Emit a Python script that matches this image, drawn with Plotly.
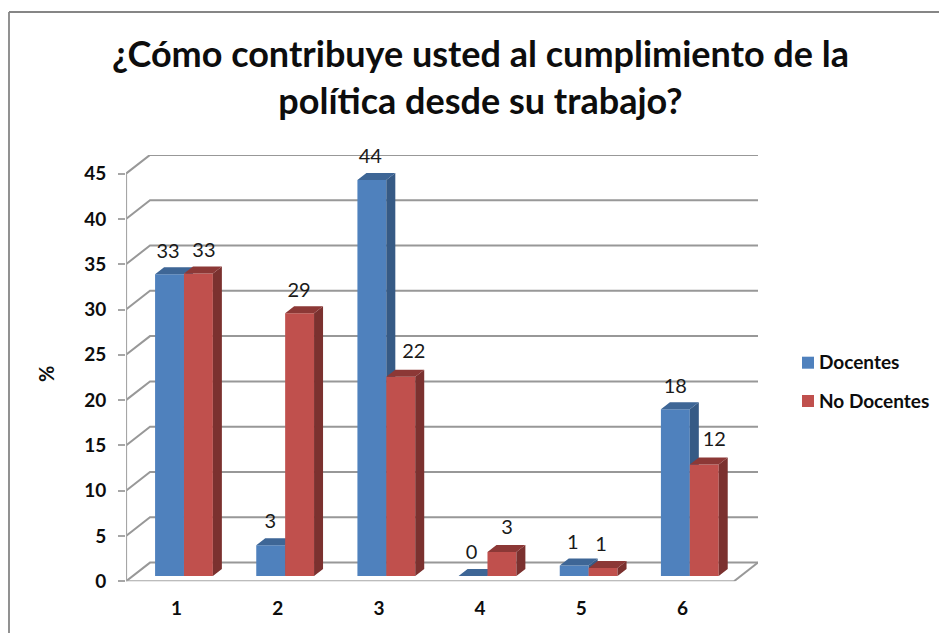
import plotly.graph_objects as go

# ---------- data ----------
categories = [1, 2, 3, 4, 5, 6]
docentes = [33.3, 3.4, 43.7, 0.0, 1.15, 18.4]
no_docentes = [33.4, 29.0, 22.0, 2.65, 0.88, 12.3]
docentes_labels = ["33", "3", "44", "0", "1", "18"]
no_docentes_labels = ["33", "29", "22", "3", "1", "12"]
y_ticks = [0, 5, 10, 15, 20, 25, 30, 35, 40, 45]
title_text = "¿Cómo contribuye usted al cumplimiento de la<br>política desde su trabajo?"
series_names = ["Docentes", "No Docentes"]

# ---------- geometry (pixels of the 939x633 page) ----------
W, H = 939, 633
AX_L, AX_R_FRONT, AX_R_BACK = 126.0, 733.0, 758.0
AX_B, AX_T_BACK = 581.3, 155.0
PX_PER_UNIT = 9.06
PX_PER_CAT = (AX_R_FRONT - AX_L) / 6
WALL_DX_PX, WALL_DY_PX = 24.0, 18.7
BAR_DX_PX, BAR_DY_PX = 9.0, 7.0
BAR_W_PX = 28.9
GROUP_SHIFT_PX = 7.4
BASE_PX = 5.3

to_x = lambda px: px / PX_PER_CAT
to_y = lambda px: px / PX_PER_UNIT
x_range = [0.5, 0.5 + to_x(AX_R_BACK - AX_L)]
y_range = [0, to_y(AX_B - AX_T_BACK)]
wdx, wdy = to_x(WALL_DX_PX), to_y(WALL_DY_PX)
bdx, bdy = to_x(BAR_DX_PX), to_y(BAR_DY_PX)
bw = to_x(BAR_W_PX)
shift = to_x(GROUP_SHIFT_PX)
base = to_y(BASE_PX)
x_end_front = x_range[1] - wdx

# label nudges in pixels (dx, height above the bar's front top edge)
doc_nudge = [(-1.5, 21), (-0.5, 22), (-1.5, 22), (-1.5, 22), (-1.5, 22), (0, 21)]
nod_nudge = [(5.5, 21), (-0.5, 21), (13, 24), (5, 23), (-2, 22), (10, 24)]

BLUE, BLUE_TOP, BLUE_SIDE = "#4F81BD", "#3E6696", "#365A85"
RED, RED_TOP, RED_SIDE = "#C0504D", "#8C3836", "#7B312F"
GRID = "#989898"
FONT = "Lato, Carlito, 'Open Sans', sans-serif"
TEXT = "#0D0D0D"

fig = go.Figure()


def wall_lines():
    xs, ys = [], []
    for t in y_ticks:
        xs += [0.5, 0.5 + wdx, x_range[1], None]
        ys += [t, t + wdy, t + wdy, None]
    # floor
    xs += [x_end_front, x_range[1], None]
    ys += [0, wdy, None]
    return xs, ys


wx, wy = wall_lines()
fig.add_trace(go.Scatter(x=wx, y=wy, mode="lines", line=dict(color=GRID, width=2),
                         showlegend=False, hoverinfo="skip", yaxis="y"))
# the vertical value axis and front floor edge
fig.add_trace(go.Scatter(x=[0.5, 0.5, None, 0.5, x_end_front], y=[y_ticks[-1], 0, None, 0, 0],
                         mode="lines", line=dict(color="#A6A6A6", width=2.2),
                         showlegend=False, hoverinfo="skip", yaxis="y"))


def faces(values, left_offset):
    side_x, side_y, top_x, top_y = [], [], [], []
    for c, v in zip(categories, values):
        xl = c + shift + left_offset
        xr = xl + bw
        yb = base
        yt = base + v
        side_x += [xr, xr + bdx, xr + bdx, xr, None]
        side_y += [yb, yb + bdy, yt + bdy, yt, None]
        top_x += [xl, xr, xr + bdx, xl + bdx, None]
        top_y += [yt, yt, yt + bdy, yt + bdy, None]
    return side_x, side_y, top_x, top_y


def add_series(name, values, labels, nudges, left_offset, col, col_top, col_side, yaxis_id):
    fig.add_trace(go.Bar(x=[c + shift for c in categories], y=values, base=base, width=bw,
                         offset=left_offset, name=name, marker=dict(color=col, line=dict(width=0)),
                         showlegend=False, yaxis=yaxis_id, hoverinfo="skip"))
    sx, sy, tx, ty = faces(values, left_offset)
    fig.add_trace(go.Scatter(x=sx, y=sy, mode="lines", fill="toself", fillcolor=col_side,
                             line=dict(width=0, color=col_side), showlegend=False,
                             hoverinfo="skip", yaxis=yaxis_id))
    fig.add_trace(go.Scatter(x=tx, y=ty, mode="lines", fill="toself", fillcolor=col_top,
                             line=dict(width=0, color=col_top), showlegend=False,
                             hoverinfo="skip", yaxis=yaxis_id))
    lx = [c + shift + left_offset + bw / 2 + to_x(n[0]) for c, n in zip(categories, nudges)]
    ly = [base + v + to_y(n[1]) for v, n in zip(values, nudges)]
    fig.add_trace(go.Scatter(x=lx, y=ly, mode="text", text=labels, textposition="middle center",
                             textfont=dict(family=FONT, size=20, color="#1A1A1A"), cliponaxis=False,
                             showlegend=False, hoverinfo="skip", yaxis=yaxis_id))


add_series(series_names[0], docentes, docentes_labels, doc_nudge, -bw, BLUE, BLUE_TOP, BLUE_SIDE, "y2")
add_series(series_names[1], no_docentes, no_docentes_labels, nod_nudge, 0, RED, RED_TOP, RED_SIDE, "y3")

ydom = [1 - AX_B / H, 1 - AX_T_BACK / H]
hidden = dict(overlaying="y", matches="y", visible=False, domain=ydom)

# hand-placed legend: the swatch-to-text gap is tighter than Plotly's own legend allows
legend_rows = [(series_names[0], BLUE, 362.7), (series_names[1], RED, 401.0)]
shapes = [dict(type="line", xref="paper", yref="paper", x0=9 / W, x1=9 / W, y0=0, y1=1 - 12 / H,
               line=dict(color="#868686", width=1.8)),
          dict(type="line", xref="paper", yref="paper", x0=9 / W, x1=1, y0=1 - 12 / H, y1=1 - 12 / H,
               line=dict(color="#868686", width=1.8))]
annotations = [dict(text="%", xref="paper", yref="paper", x=46 / W, y=1 - 374 / H, showarrow=False,
                    textangle=-90, xanchor="center", yanchor="middle",
                    font=dict(family=FONT, size=20, color=TEXT, weight="bold"))]
for name, col, cy in legend_rows:
    shapes.append(dict(type="rect", xref="paper", yref="paper", x0=802 / W, x1=814 / W,
                       y0=1 - (cy + 6) / H, y1=1 - (cy - 6) / H, fillcolor=col, line=dict(width=0)))
    annotations.append(dict(text=name, xref="paper", yref="paper", x=817 / W, y=1 - (cy - 1) / H, showarrow=False,
                            xanchor="left", yanchor="middle",
                            font=dict(family=FONT, size=19, color=TEXT, weight="bold")))

fig.update_layout(
    width=W, height=H,
    margin=dict(l=0, r=0, t=0, b=0, autoexpand=False),
    paper_bgcolor="white", plot_bgcolor="rgba(0,0,0,0)",
    hovermode=False,
    barmode="overlay",
    showlegend=False,
    title=dict(text=title_text, x=480.5 / W, xanchor="center", y=1 - 67 / H, yanchor="top",
               font=dict(family=FONT, size=36, color=TEXT, weight="bold")),
    xaxis=dict(domain=[AX_L / W, AX_R_BACK / W], range=x_range, tickvals=categories,
               ticktext=[str(c) for c in categories], showgrid=False, zeroline=False, showline=False,
               ticks="", ticklabelstandoff=14,
               tickfont=dict(family=FONT, size=19, color=TEXT, weight="bold")),
    yaxis=dict(domain=ydom, range=y_range, tickvals=y_ticks, showgrid=False, zeroline=False,
               showline=False, ticks="outside", ticklen=7, tickwidth=2, tickcolor="#A6A6A6",
               ticklabelstandoff=8,
               tickfont=dict(family=FONT, size=19, color=TEXT, weight="bold")),
    yaxis2=hidden, yaxis3=hidden,
    annotations=annotations,
    shapes=shapes,
)

fig.write_html("out.html", config=dict(displayModeBar=False),
               post_script="document.body.style.margin='0';")
